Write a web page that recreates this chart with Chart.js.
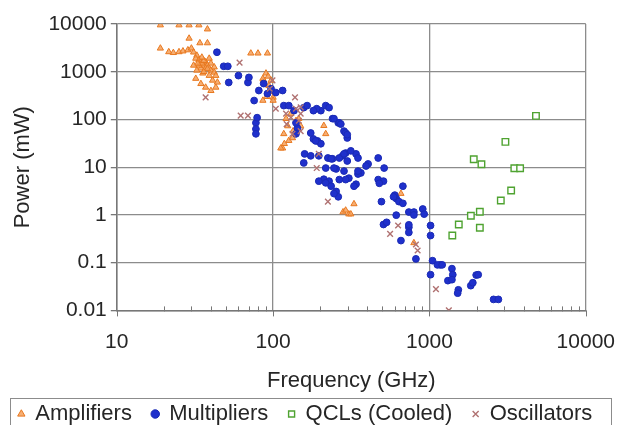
<!DOCTYPE html>
<html>
<head>
<meta charset="utf-8">
<script src="https://cdn.jsdelivr.net/npm/chart.js@4.4.0/dist/chart.umd.min.js"></script>
<style>
  html, body { margin: 0; padding: 0; background: #fff; }
  #wrap { width: 619px; height: 425px; position: relative; }
</style>
</head>
<body>
<div id="wrap"><canvas id="powerChart"></canvas></div>
<script>
// tick labels
const xTicks = [10, 100, 1000, 10000];
const yTicks = [0.01, 0.1, 1, 10, 100, 1000, 10000];

// [frequency GHz, power mW]
const amplifiers = [
  [19,9500],[25,9500],[29,9500],[33.5,9500],[38,7800],
  [29,5000],[34,4000],[38,4000],
  [19,3100],[21.5,2600],[23,2500],[25,2600],[26.5,2700],[28.5,2850],[30,3100],[31,2560],[32.5,2200],
  [32,1900],[33.5,1750],[34.5,1600],[36,1360],[37,1600],[38,1360],[40,1500],[37,1180],[34.5,1180],
  [33.5,1360],[40,1070],[42,970],[32.5,1070],[35.5,930],[39,830],[43,830],[31,1360],[32,720],
  [34.5,560],[37,470],[40,400],[43,470],[44,600],[41,660],[35,1500],[36,1700],[38,1150],[36,1000],
  [39,1900],[35,2000],[33,1500],[42,1250],
  [72,2440],[80,2440],[92,2440],
  [90,930],[87,660],[94,510],[97,660],[86,720],[91,300],[86,250],[100,290],[100,250],[95,380],[98,420],[93,800],
  [121,104],[130,133],[140,94],[124,73],[134,57],[146,104],[150,73],[117,50],[126,36],[115,25],[112,25],[118,31],[133,41],
  [211,74],[217,50],
  [280,1.15],[305,1.04],[314,1.04],[329,1.7],[291,1.25],
  [657,2.8],[795,0.26]
];
const multipliers = [
  [43.7,2560],[48.3,1300],[51.3,1300],[52,595],[69,595],[70,760],[81,404],[87,565],[92,348],[104,366],
  [115,404],[97,440],[117,195],[126,195],[136,153],[157,177],[165,195],[202,153],[217,195],[228,177],
  [190,168],[240,104],[261,85],[284,57],[298,41],[291,19.8],[278,17.3],[240,15],[224,15.6],[253,9.2],
  [284,8.3],[305,5.9],[211,5.6],[228,5.1],[253,3.1],[261,2.4],[157,12.3],[174,17.3],[181,39],[192,35.6],
  [202,31],[174,52],[143,66],[140,85],[77.6,85],[77.6,63],[77.6,50],[79,109],[140,50],[187,35.6],
  [245,104],[265,85],[291,52],[196,17.3],[235,15],[265,15.6],[284,19],[298,13.5],[339,19],[470,15.6],
  [513,9.6],[405,11.7],[364,7.6],[349,7.2],[291,5.5],[265,5.5],[245,9.6],[217,9.6],[196,5.1],[217,4.7],
  [235,4.0],[245,2.8],[339,4.4],[470,5.5],[508,5.1],[676,4.0],[493,1.9],[613,2.2],[638,1.9],[676,1.75],
  [613,0.99],[738,1.15],[795,1.15],[906,1.33],[925,1.04],[738,0.55],[738,0.43],[508,0.63],[657,0.29],[819,0.12],
  [1016,0.6],[1016,0.37],[1046,0.11],[1171,0.09],[1016,0.056],[1312,0.042],[1124,0.09],[1392,0.075],[1410,0.056],[1392,0.044],
  [1530,0.027],[1515,0.023],[1838,0.033],[1894,0.038],[1990,0.055],[2050,0.056],[2570,0.017],[2760,0.017],
  [600,2.6],[271,80],[298,48],[181,153],[314,22],[349,15.6],[349,8.3],[393,10.6],[75.6,249],[60,830],
  [738,0.62],[1206,0.09],[589,2.4],[478,4.6],[329,4.0],[159,19],[532,0.7],[795,1.0]
];
const qcls = [
  [4800,119],[3060,34],[1920,14.7],[2150,11.5],[3490,9.5],[3800,9.5],[3330,3.25],
  [2860,2.0],[2100,1.17],[1840,0.96],[1540,0.63],[1400,0.37],[2100,0.54]
];
const oscillators = [
  [37,290],[61,1550],[62,120],[69,120],[95,440],[99,660],[121,133],[150,133],[140,168],[138,290],
  [150,180],[130,110],[122,80],[133,50],[150,57],[146,94],[104,168],[196,19],[190,9.6],[224,1.9],
  [560,0.4],[630,0.6],[1100,0.028],[1330,0.01],[819,0.24],[840,0.18]
];

const FONT = "'Liberation Sans', Arial, sans-serif";
const TEXT = '#262626';
const GRID = '#8c8c8c';

const toPts = arr => arr.map(([x, y]) => ({ x, y }));
const fmt = v => String(+v.toPrecision(6));

// x axis tick marks: short major ticks below, small minor ticks (2..9) on the axis line
const xAxisTicks = {
  id: 'xAxisTicks',
  afterDraw(chart) {
    const xs = chart.scales.x, ctx = chart.ctx, bottom = chart.chartArea.bottom;
    ctx.save();
    ctx.strokeStyle = '#777';
    ctx.lineWidth = 1;
    xTicks.forEach((v, d) => {
      const px = Math.round(xs.getPixelForValue(v)) + 0.5;
      ctx.beginPath();
      ctx.moveTo(px, bottom);
      ctx.lineTo(px, bottom + 6);
      ctx.stroke();
      if (d === xTicks.length - 1) return;
      for (let m = 2; m <= 9; m++) {
        const mx = Math.round(xs.getPixelForValue(v * m)) + 0.5;
        ctx.beginPath();
        ctx.moveTo(mx, bottom - 4);
        ctx.lineTo(mx, bottom + 1);
        ctx.stroke();
      }
    });
    ctx.restore();
  }
};

// frame round the legend like the original
const legendBox = {
  id: 'legendBox',
  afterDraw(chart) {
    const boxes = chart.legend.legendHitBoxes;
    if (!boxes || !boxes.length) return;
    const top = Math.min(...boxes.map(b => b.top));
    const ctx = chart.ctx;
    ctx.save();
    ctx.strokeStyle = '#8c8c8c';
    ctx.lineWidth = 1;
    ctx.strokeRect(10.5, Math.round(top - 5) + 0.5, 601, 40);
    ctx.restore();
  }
};

function initChart() {
  const ctx = document.getElementById('powerChart').getContext('2d');
  new Chart(ctx, {
    type: 'scatter',
    data: {
      datasets: [
        { label: 'Amplifiers', data: toPts(amplifiers), pointStyle: 'triangle', radius: 3.6,
          backgroundColor: 'rgba(245,160,90,0.85)', borderColor: '#E8781F', borderWidth: 1, order: 3 },
        { label: 'Multipliers', data: toPts(multipliers), pointStyle: 'circle', radius: 3.4,
          backgroundColor: '#1F30CC', borderColor: '#1A2AB4', borderWidth: 1, order: 2 },
        { label: 'QCLs (Cooled)', data: toPts(qcls), pointStyle: 'rect', radius: 4.6,
          backgroundColor: '#fff', borderColor: '#4FA331', borderWidth: 1.4, order: 1 },
        { label: 'Oscillators', data: toPts(oscillators), pointStyle: 'crossRot', radius: 4,
          backgroundColor: '#B07272', borderColor: '#B07272', borderWidth: 1.4, order: 0 }
      ]
    },
    options: {
      responsive: true,
      maintainAspectRatio: false,
      animation: false,
      layout: { padding: { top: 24, right: 0, left: 10, bottom: -10 } },
      plugins: {
        tooltip: { enabled: false },
        legend: {
          position: 'bottom',
          labels: {
            color: TEXT,
            font: { family: FONT, size: 22 },
            usePointStyle: true,
            boxWidth: 6, boxHeight: 6,
            padding: 2,
            sort: (a, b) => a.datasetIndex - b.datasetIndex,
            generateLabels: chart => Chart.defaults.plugins.legend.labels.generateLabels(chart)
              .map(l => Object.assign(l, { text: l.text + '   ' }))
          }
        }
      },
      scales: {
        x: {
          type: 'logarithmic', min: 10, max: 10000,
          afterBuildTicks: ax => { ax.ticks = xTicks.map(v => ({ value: v })); },
          ticks: { callback: v => fmt(v), color: TEXT, font: { family: FONT, size: 21 },
                   maxRotation: 0, autoSkip: false, padding: 4 },
          grid: { color: GRID, lineWidth: 1.3, tickLength: 15, tickColor: 'transparent' },
          border: { color: '#777', width: 1.5 },
          title: { display: true, text: 'Frequency (GHz)', color: TEXT,
                   font: { family: FONT, size: 22 }, padding: { top: 9, bottom: 7 } }
        },
        y: {
          type: 'logarithmic', min: 0.01, max: 10000,
          afterBuildTicks: ax => { ax.ticks = yTicks.map(v => ({ value: v })); },
          ticks: { callback: v => fmt(v), color: TEXT, font: { family: FONT, size: 21 }, padding: 4 },
          grid: { color: GRID, lineWidth: 1.3, tickLength: 6, tickColor: '#777' },
          border: { color: '#777', width: 1.5 },
          title: { display: true, text: 'Power (mW)', color: TEXT,
                   font: { family: FONT, size: 22 }, padding: { top: 0, bottom: 8 } }
        }
      }
    },
    plugins: [xAxisTicks, legendBox]
  });
}

if (document.readyState === 'loading') document.addEventListener('DOMContentLoaded', initChart); else initChart();
</script>
</body>
</html>
